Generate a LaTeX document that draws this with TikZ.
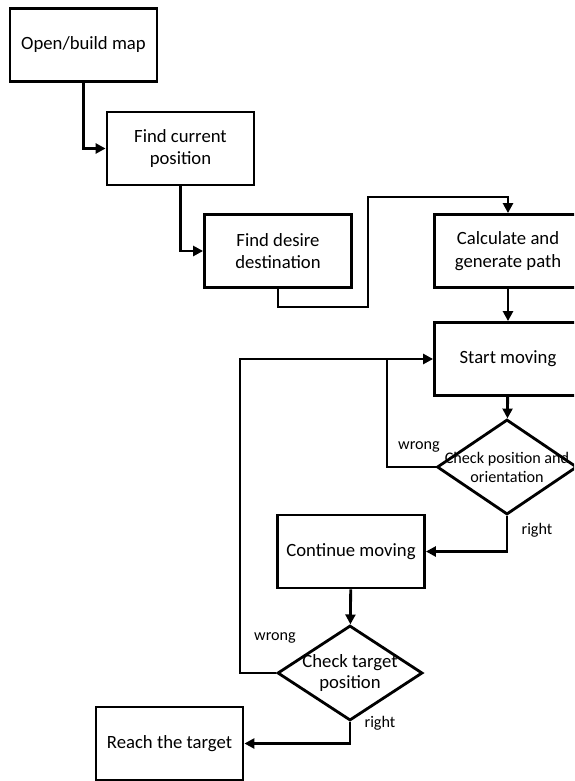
\documentclass[tikz,border=0pt]{standalone}
\usepackage{fontspec}
\setmainfont{Carlito}
\usetikzlibrary{arrows.meta,shapes.geometric}

\begin{document}
\begin{tikzpicture}[x=0.025cm,y=-0.025cm,
    box/.style={draw,line width=2pt,minimum width=3.675cm,minimum height=1.825cm,
      align=center,font=\fontsize{13.3}{16}\selectfont},
    dec/.style={draw,diamond,line width=2pt,inner sep=0pt},
    arr/.style={line width=2pt,-{Triangle[length=7pt,width=7pt]}},
    lbl/.style={font=\fontsize{11.5}{13}\selectfont}]
    \clip (0,0) rectangle (574,781);
    \node[box] (map) at (83.5,45) {Open/build map};
    \node[box] (pos) at (180.5,148.5) {Find current\\position};
    \node[box] (dest) at (278,251) {Find desire\\destination};
    \node[box] (path) at (508,251) {Calculate and\\generate path};
    \node[box] (start) at (508,359) {Start moving};
    \node[dec,minimum width=3.5cm,minimum height=2.375cm] (chk1) at (507,467) {};
    \node[align=center,font=\fontsize{11.5}{13.5}\selectfont] (chk1t) at (chk1) {Check position and\\orientation};
    \node[box] (cont) at (351,551.5) {Continue moving};
    \node[dec,minimum width=3.625cm,minimum height=2.375cm] (chk2) at (350,673) {};
    \node[align=center,font=\fontsize{13.3}{15}\selectfont] (chk2t) at (chk2) {Check target\\position};
    \node[box] (reach) at (169.5,743.5) {Reach the target};
    \coordinate (k1) at (368,197);
    \coordinate (j1) at (387,359);
    \coordinate (j2) at (240,359);
    \draw[arr] (map.south) |- (pos.west);
    \draw[arr] (pos.south) |- (dest.west);
    \draw[arr] (dest.south) -- ++(0,18) -| (k1) -| (path.north);
    \draw[arr] (path) -- (start);
    \draw[arr] (start) -- (chk1);
    \draw[arr] (chk1.south) |- (cont.east);
    \draw[line width=2pt] (chk1.west) -| (j1);
    \draw[arr] (cont) -- (chk2);
    \draw[arr] (chk2.west) -| (j2) -- (start.west);
    \draw[arr] (chk2.south) |- (reach.east);
    \node[lbl] (w1) at (419,447) {wrong};
    \node[lbl] (r1) at (537,530) {right};
    \node[lbl] (w2) at (275,638) {wrong};
    \node[lbl] (r2) at (380,723) {right};
  \end{tikzpicture}
\end{document}
